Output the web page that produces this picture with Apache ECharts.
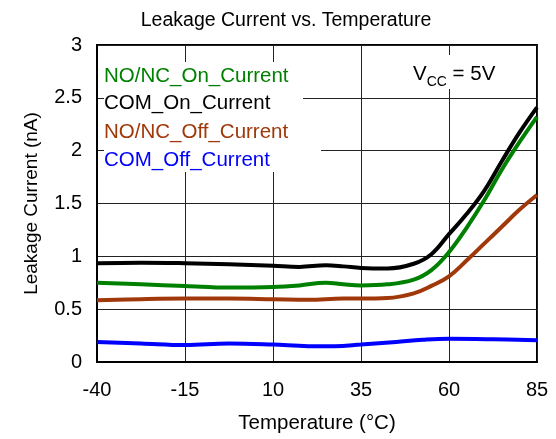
<!DOCTYPE html>
<html>
<head>
<meta charset="utf-8">
<script src="https://cdn.jsdelivr.net/npm/echarts@6/dist/echarts.min.js"></script>
<style>html,body{margin:0;padding:0;background:#fff}#c{width:556px;height:439px}</style>
</head>
<body>
<div id="c"></div>
<script>
const xTicks = [-40, -15, 10, 35, 60, 85];
const yTicks = [0, 0.5, 1, 1.5, 2, 2.5, 3];

const temps_com_on = [-40, -27.5, -15, -2.5, 10, 17.5, 25, 30, 35, 42.5, 50, 55, 60, 65, 70, 75, 80, 85];
const com_on = [0.935, 0.94, 0.935, 0.925, 0.91, 0.90, 0.915, 0.905, 0.89, 0.885, 0.93, 1.02, 1.21, 1.40, 1.62, 1.90, 2.17, 2.41];

const temps_nonc_on = [-40, -27.5, -15, -2.5, 10, 17.5, 25, 30, 35, 42.5, 50, 55, 60, 65, 70, 75, 80, 85];
const nonc_on = [0.75, 0.735, 0.72, 0.705, 0.71, 0.725, 0.75, 0.735, 0.725, 0.735, 0.78, 0.87, 1.04, 1.27, 1.53, 1.82, 2.08, 2.32];

const temps_nonc_off = [-40, -27.5, -15, -2.5, 10, 20, 30, 35, 42.5, 50, 55, 60, 65, 70, 75, 80, 85];
const nonc_off = [0.585, 0.595, 0.60, 0.60, 0.595, 0.59, 0.60, 0.60, 0.605, 0.65, 0.72, 0.81, 0.96, 1.12, 1.28, 1.44, 1.58];

const temps_com_off = [-40, -27.5, -15, -2.5, 10, 20, 27.5, 35, 45, 52.5, 60, 72.5, 85];
const com_off = [0.19, 0.175, 0.16, 0.175, 0.165, 0.15, 0.15, 0.165, 0.19, 0.21, 0.22, 0.215, 0.205];

const X0 = -40; // axis offset so ticks start at 0
const pts = (t, v) => t.map((x, i) => [x - X0, v[i]]);

const FONT = '"Liberation Sans", Arial, sans-serif';
const chart = echarts.init(document.getElementById('c'));
const mk = (name, t, v, color) => ({
  name, type: 'line', data: pts(t, v), smooth: 0.4, symbol: 'none',
  lineStyle: { color, width: 4 }, z: 3
});
chart.setOption({
  animation: false,
  backgroundColor: '#fff',
  title: {
    text: 'Leakage Current vs. Temperature', left: 281, top: 6, textAlign: 'center',
    textStyle: { fontFamily: FONT, fontSize: 19.5, fontWeight: 'normal', color: '#000' }
  },
  grid: { left: 97, right: 19, top: 45, bottom: 73.5, show: true, borderColor: '#000', borderWidth: 2, backgroundColor: 'transparent' },
  xAxis: {
    type: 'value', min: 0, max: 125, interval: 25,
    name: 'Temperature (°C)', nameLocation: 'middle', nameGap: 51,
    nameTextStyle: { fontFamily: FONT, fontSize: 20.5, color: '#000' },
    axisLine: { show: true, lineStyle: { color: '#000', width: 2 } },
    axisTick: { show: false },
    axisLabel: { fontFamily: FONT, fontSize: 20, color: '#000', margin: 18, formatter: v => String(v + X0) },
    splitLine: { show: true, lineStyle: { color: '#222', width: 1 } }
  },
  yAxis: {
    type: 'value', min: 0, max: 3, interval: 0.5,
    name: 'Leakage Current (nA)', nameLocation: 'middle', nameGap: 56,
    nameTextStyle: { fontFamily: FONT, fontSize: 19, color: '#000' },
    axisLine: { show: true, lineStyle: { color: '#000', width: 2 } },
    axisTick: { show: false },
    axisLabel: { fontFamily: FONT, fontSize: 20, color: '#000', margin: 15, formatter: v => String(v) },
    splitLine: { show: true, lineStyle: { color: '#222', width: 1 } }
  },
  graphic: [
    { type: 'rect', z: 5, shape: { x: 104, y: 62, width: 199, height: 110 }, style: { fill: '#fff' } },
    { type: 'rect', z: 5, shape: { x: 104, y: 145, width: 217, height: 27 }, style: { fill: '#fff' } },
    { type: 'text', z: 6, left: 104, top: 66, style: { text: 'NO/NC_On_Current', fill: '#008000', font: '20.5px ' + FONT } },
    { type: 'text', z: 6, left: 104, top: 93, style: { text: 'COM_On_Current', fill: '#000000', font: '20.5px ' + FONT } },
    { type: 'text', z: 6, left: 104, top: 122, style: { text: 'NO/NC_Off_Current', fill: '#A0380A', font: '20.5px ' + FONT } },
    { type: 'text', z: 6, left: 104, top: 150, style: { text: 'COM_Off_Current', fill: '#0000FF', font: '20.5px ' + FONT } },
    { type: 'text', z: 6, left: 410, top: 55, style: {
        text: '{a|V}{b|CC}{a| = 5V}', backgroundColor: '#fff', padding: [2, 3, 4, 3],
        rich: {
          a: { fontFamily: FONT, fontSize: 20.5, fill: '#000', lineHeight: 28, verticalAlign: 'bottom' },
          b: { fontFamily: FONT, fontSize: 14, fill: '#000', lineHeight: 28, verticalAlign: 'bottom', padding: [0, 0, -4, 0] }
        } } }
  ],
  series: [
    mk('COM_Off_Current', temps_com_off, com_off, '#0000FF'),
    mk('NO/NC_Off_Current', temps_nonc_off, nonc_off, '#A0380A'),
    mk('NO/NC_On_Current', temps_nonc_on, nonc_on, '#008000'),
    mk('COM_On_Current', temps_com_on, com_on, '#000000')
  ]
});
</script>
</body>
</html>
